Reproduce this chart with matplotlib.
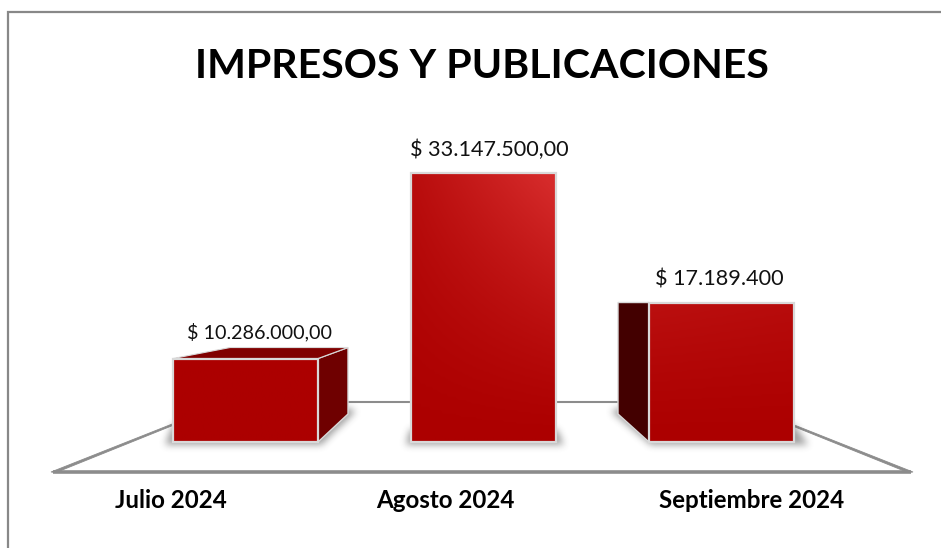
import numpy as np
import matplotlib
matplotlib.use("Agg")
import matplotlib.pyplot as plt
from matplotlib.patches import Polygon
from matplotlib.path import Path
from matplotlib.colors import LinearSegmentedColormap

# ---- data ----
categories = ["Julio 2024", "Agosto 2024", "Septiembre 2024"]
values = [10286000, 33147500, 17189400]
value_labels = ["$ 10.286.000,00", "$ 33.147.500,00", "$ 17.189.400"]
title = "IMPRESOS Y PUBLICACIONES"

# ---- layout (pixels) ----
W, H = 941, 548
base_px, unit_px = 442.0, 8.115 / 1e6   # y pixel of zero, px per peso
x0_px, step_px = 245.5, 238.0           # x pixel of first category, px per category
bar_w = 145 / step_px
px_x = 1 / step_px
px_y = 1 / unit_px

plt.rcParams["font.family"] = ["Lato", "DejaVu Sans"]
fig = plt.figure(figsize=(W / 100, H / 100), dpi=100, facecolor="white")
ax = fig.add_axes([0, 0, 1, 1])
ax.axis("off")


def X(p):  # x pixel -> data
    return (p - x0_px) * px_x


def Y(p):  # y pixel -> data
    return (base_px - p) * px_y


def PX(x):  # data -> x pixel
    return x0_px + x * step_px


def soft_shadow(points_px, blur=3, passes=3, strength=0.5):
    """Blurred grey polygon, given in pixel space."""
    pts = np.array(points_px, dtype=float)
    pad = 20
    x0, x1 = int(pts[:, 0].min()) - pad, int(pts[:, 0].max()) + pad
    y0, y1 = int(pts[:, 1].min()) - pad, int(pts[:, 1].max()) + pad
    gx, gy = np.meshgrid(np.arange(x0, x1) + 0.5, np.arange(y0, y1) + 0.5)
    mask = Path(pts).contains_points(np.c_[gx.ravel(), gy.ravel()]).reshape(gx.shape).astype(float)
    kernel = np.ones(2 * blur + 1) / (2 * blur + 1)
    for _ in range(passes):
        mask = np.apply_along_axis(lambda m: np.convolve(m, kernel, mode="same"), 0, mask)
        mask = np.apply_along_axis(lambda m: np.convolve(m, kernel, mode="same"), 1, mask)
    rgba = np.zeros(mask.shape + (4,))
    rgba[..., :3] = 0.25
    rgba[..., 3] = mask * strength
    ax.imshow(rgba, extent=(X(x0), X(x1), Y(y1), Y(y0)), origin="upper", aspect="auto",
              zorder=3, interpolation="bilinear")


# frame
frame_c = "#888888"
ax.plot([X(8), X(8), X(W + 2)], [Y(H + 2), Y(12), Y(12)], color=frame_c, lw=1.6, zorder=1,
        solid_capstyle="butt", solid_joinstyle="miter")

# floor
floor_c = "#8c8c8c"
ax.plot([X(53), X(911)], [Y(471.5), Y(471.5)], color=floor_c, lw=2.6, zorder=2, solid_capstyle="butt")
ax.add_patch(Polygon([(X(51), Y(472)), (X(229), Y(401.5)), (X(229), Y(402.8)), (X(56), Y(472.5))],
                     closed=True, fc=floor_c, ec=floor_c, lw=0.6, zorder=2))
ax.add_patch(Polygon([(X(913), Y(472)), (X(735), Y(401.5)), (X(735), Y(402.8)), (X(908), Y(472.5))],
                     closed=True, fc=floor_c, ec=floor_c, lw=0.6, zorder=2))
ax.plot([X(229), X(735)], [Y(402), Y(402)], color=floor_c, lw=1.5, zorder=2)

grad = LinearSegmentedColormap.from_list("r", ["#ac0000", "#d62b2b"])
edge_c = "#d9d9d9"
rise_px = 28

# gradient strength per bar: (base, horizontal gain)
grad_style = [(0.0, 0.0), (0.30, 0.75), (0.36, -0.08)]
label_dx_px = [14, 6, -2]
label_base_px = [338.5, 156.5, 285]
label_size = [14.2, 15.6, 15.6]
cat_center_px = [171, 445.5, 752]

for i, (cat, v, lab) in enumerate(zip(categories, values, value_labels)):
    l, r = i - bar_w / 2, i + bar_w / 2
    dy = rise_px * px_y
    pl, pr = PX(l), PX(r)

    # soft contact shadows
    if i == 0:
        dx = 30 * px_x
        soft_shadow([(pl - 8, 445), (pr + 3, 445), (pr + 38, 412), (pr + 28, 408), (pr, 425), (pl, 425)])
    elif i == 1:
        soft_shadow([(pl - 5, 445), (pr + 8, 445), (pr + 1, 430), (pl - 1, 430)])
    else:
        dx = 31 * px_x
        soft_shadow([(pl + 2, 445), (pr + 14, 445), (pr, 425), (pl - 28, 408), (pl - 38, 412)])

    # 3D faces
    if i == 0:
        top = 11 * px_y
        ax.add_patch(Polygon([(r, 0), (r + dx, dy), (r + dx, v + top), (r, v)],
                             closed=True, fc="#6f0000", ec=edge_c, lw=1.0, zorder=4))
        ax.add_patch(Polygon([(l, v), (l + 57 * px_x, v + top), (r + dx, v + top), (r, v)],
                             closed=True, fc="#800000", ec=edge_c, lw=0.8, zorder=4))
    if i == 2:
        ax.add_patch(Polygon([(l, 0), (l - dx, dy), (l - dx, v), (l, v)],
                             closed=True, fc="#430000", ec=edge_c, lw=1.0, zorder=4))

    # front gradient
    a, b = grad_style[i]
    yy, xx = np.mgrid[0:80, 0:80] / 79
    g = np.clip(yy ** 1.3 * (a + b * xx), 0, 1)
    ax.imshow(g, origin="lower", extent=(l, r, 0, v), cmap=grad, vmin=0, vmax=1,
              aspect="auto", zorder=5, interpolation="bilinear")
    ax.bar(i, v, width=bar_w, fc="none", ec=edge_c, lw=1.6, zorder=6)

    # texts
    ax.text(i + label_dx_px[i] * px_x, Y(label_base_px[i]), lab, ha="center", va="baseline",
            fontsize=label_size[i], color="#111111", zorder=7)
    ax.text(X(cat_center_px[i]), Y(508.5), cat, ha="center", va="baseline",
            fontsize=17.4, fontweight="bold", color="black", zorder=7)

ax.text(X(482), Y(78.5), title, ha="center", va="baseline", fontsize=29.6, fontweight="bold", color="black")

ax.set_xlim(-x0_px * px_x, (W - x0_px) * px_x)
ax.set_ylim(-(H - base_px) * px_y, base_px * px_y)

fig.savefig("out.png", dpi=100, facecolor="white")
